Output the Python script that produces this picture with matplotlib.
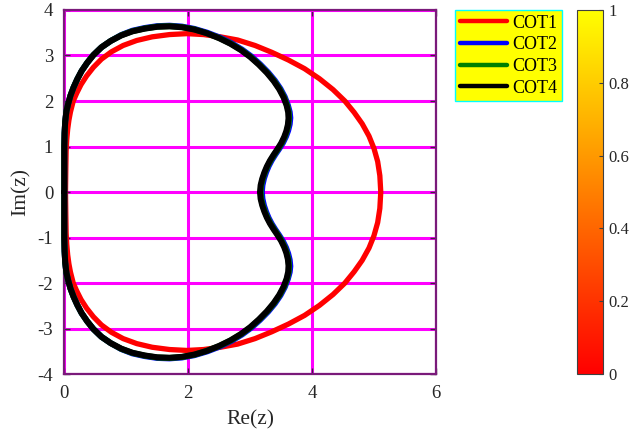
import numpy as np
import matplotlib
matplotlib.use("Agg")
import matplotlib.pyplot as plt
from matplotlib import cm, colors

plt.rcParams['font.family'] = ['Liberation Serif', 'DejaVu Serif']
plt.rcParams['axes.unicode_minus'] = False

########### boundary points (upper half, left side at y=0 round to right side at y=0)
# COT1
cot1_x = [0.02, 0.025, 0.03, 0.04, 0.055, 0.075, 0.10, 0.145, 0.20, 0.27, 0.36, 0.47,
          0.60, 0.76, 0.95, 1.17, 1.42, 1.70, 1.98, 2.25, 2.52, 2.80, 3.08, 3.35,
          3.62, 3.88, 4.12, 4.34, 4.53, 4.68, 4.81, 4.92, 5.00, 5.06, 5.095, 5.11]
cot1_y = [0.00, 0.50, 0.90, 1.15, 1.38, 1.58, 1.76, 2.00, 2.17, 2.36, 2.55, 2.74,
          2.92, 3.08, 3.22, 3.33, 3.41, 3.46, 3.48, 3.46, 3.41, 3.34, 3.22, 3.07,
          2.90, 2.71, 2.49, 2.25, 2.00, 1.75, 1.50, 1.23, 0.96, 0.67, 0.36, 0.00]

# COT2
cot2_x = [0.00, 0.00, 0.00, 0.005, 0.015, 0.035, 0.065, 0.10, 0.15, 0.21, 0.28, 0.37,
          0.47, 0.60, 0.75, 0.92, 1.10, 1.30, 1.50, 1.70, 1.90, 2.10, 2.31, 2.52,
          2.70, 2.87, 3.02, 3.16, 3.29, 3.40, 3.49, 3.56, 3.61, 3.64, 3.65, 3.64,
          3.615, 3.58, 3.53, 3.47, 3.41, 3.35, 3.30, 3.26, 3.225, 3.20, 3.19]
cot2_y = [0.00, 0.50, 1.00, 1.30, 1.55, 1.78, 1.95, 2.12, 2.30, 2.48, 2.66, 2.84,
          3.01, 3.18, 3.32, 3.45, 3.545, 3.605, 3.645, 3.655, 3.635, 3.585, 3.50, 3.39,
          3.27, 3.13, 2.98, 2.81, 2.63, 2.45, 2.27, 2.09, 1.91, 1.76, 1.63, 1.49,
          1.35, 1.22, 1.08, 0.95, 0.83, 0.70, 0.57, 0.44, 0.30, 0.15, 0.00]

# COT3
cot3_x = [0.00, 0.00, 0.00, 0.005, 0.015, 0.035, 0.065, 0.10, 0.15, 0.21, 0.28, 0.37,
          0.47, 0.60, 0.75, 0.92, 1.10, 1.30, 1.50, 1.70, 1.90, 2.10, 2.30, 2.51,
          2.69, 2.86, 3.01, 3.15, 3.28, 3.39, 3.48, 3.55, 3.60, 3.625, 3.63, 3.62,
          3.595, 3.56, 3.51, 3.45, 3.39, 3.33, 3.28, 3.24, 3.205, 3.18, 3.17]
cot3_y = [0.00, 0.50, 1.00, 1.30, 1.55, 1.78, 1.95, 2.12, 2.30, 2.48, 2.66, 2.84,
          3.01, 3.18, 3.32, 3.445, 3.535, 3.595, 3.635, 3.645, 3.625, 3.575, 3.49, 3.38,
          3.26, 3.12, 2.97, 2.80, 2.62, 2.44, 2.26, 2.08, 1.90, 1.75, 1.62, 1.48,
          1.34, 1.21, 1.07, 0.94, 0.82, 0.69, 0.56, 0.43, 0.29, 0.15, 0.00]

# COT4
cot4_x = [0.00, 0.00, 0.00, 0.005, 0.015, 0.035, 0.065, 0.10, 0.15, 0.21, 0.28, 0.37,
          0.47, 0.60, 0.75, 0.92, 1.10, 1.30, 1.50, 1.70, 1.90, 2.10, 2.30, 2.50,
          2.68, 2.85, 3.00, 3.14, 3.27, 3.38, 3.47, 3.54, 3.59, 3.615, 3.62, 3.61,
          3.585, 3.55, 3.50, 3.44, 3.38, 3.32, 3.27, 3.23, 3.195, 3.17, 3.16]
cot4_y = [0.00, 0.50, 1.00, 1.30, 1.55, 1.78, 1.95, 2.12, 2.30, 2.48, 2.66, 2.84,
          3.01, 3.18, 3.32, 3.44, 3.53, 3.59, 3.63, 3.64, 3.62, 3.57, 3.49, 3.38,
          3.26, 3.12, 2.97, 2.80, 2.62, 2.44, 2.26, 2.08, 1.90, 1.75, 1.62, 1.48,
          1.34, 1.21, 1.07, 0.94, 0.82, 0.69, 0.56, 0.43, 0.29, 0.15, 0.00]

labels = ['COT1', 'COT2', 'COT3', 'COT4']
line_colors = ['#ff0000', '#0000ff', '#008000', '#000000']
xticks = [0, 2, 4, 6]
yticks = [-4, -3, -2, -1, 0, 1, 2, 3, 4]
cbar_ticks = [0, 0.2, 0.4, 0.6, 0.8, 1]
cbar_labels = ['0', '0.2', '0.4', '0.6', '0.8', '1']


def closeCurve(xs, ys):
	# the regions are symmetric about the real axis: reflect the upper half
	xs = np.asarray(xs, dtype=float)
	ys = np.asarray(ys, dtype=float)
	x_full = np.concatenate([xs, xs[::-1][1:]])
	y_full = np.concatenate([ys, -ys[::-1][1:]])
	return x_full, y_full


fig = plt.figure(figsize=(6.32, 4.34), dpi=100)
ax = fig.add_axes([0.1017, 0.138, 0.588, 0.839])

curves = [(cot1_x, cot1_y), (cot2_x, cot2_y), (cot3_x, cot3_y), (cot4_x, cot4_y)]
widths = [3.8, 4.3, 4.3, 4.3]
for (xs, ys), lab, col, lw in zip(curves, labels, line_colors, widths):
	cx, cy = closeCurve(xs, ys)
	ax.plot(cx, cy, color=col, lw=lw, label=lab, clip_on=False, zorder=3,
		solid_joinstyle='round', solid_capstyle='round')

ax.set_xlim(0, 6)
ax.set_ylim(-4, 4)
ax.set_xticks(xticks)
ax.set_yticks(yticks)
ax.set_xticklabels([str(t) for t in xticks])
ax.set_yticklabels([str(t) for t in yticks])
ax.grid(True, color='#ff00ff', lw=2.2, zorder=1)
ax.set_axisbelow(True)
for sp in ax.spines.values():
	sp.set_color('#7a1a7a')
	sp.set_linewidth(1.6)
ax.tick_params(direction='in', length=4, width=1, color='#3a2a3a',
	labelsize=13.5, labelcolor='#262626', top=True, right=True, pad=8)
ax.set_xlabel('Re(z)', fontsize=15.5, color='#262626', labelpad=6)
ax.set_ylabel('Im(z)', fontsize=15.5, color='#262626', labelpad=5)

leg = ax.legend(loc='upper left', bbox_to_anchor=(455 / 632, 1 - 10 / 434),
	bbox_transform=fig.transFigure, borderaxespad=0, fancybox=False,
	framealpha=1, facecolor='#ffff00', edgecolor='#00ffff', fontsize=13,
	handlelength=2.65, handletextpad=0.25, labelspacing=0.26, borderpad=0.25)
leg.get_frame().set_linewidth(1.0)
for h in leg.get_lines():
	h.set_linewidth(3.2)

########### colorbar
cax = fig.add_axes([0.913, 0.138, 0.041, 0.839])
sm = cm.ScalarMappable(norm=colors.Normalize(0, 1), cmap='autumn')
cb = fig.colorbar(sm, cax=cax)
cb.set_ticks(cbar_ticks)
cb.set_ticklabels(cbar_labels)
cb.outline.set_edgecolor('#404040')
cb.outline.set_linewidth(0.8)
cax.tick_params(direction='in', length=3, width=0.8, color='#404040',
	labelsize=12, labelcolor='#262626', pad=4)

fig.savefig('out.png', dpi=100)
